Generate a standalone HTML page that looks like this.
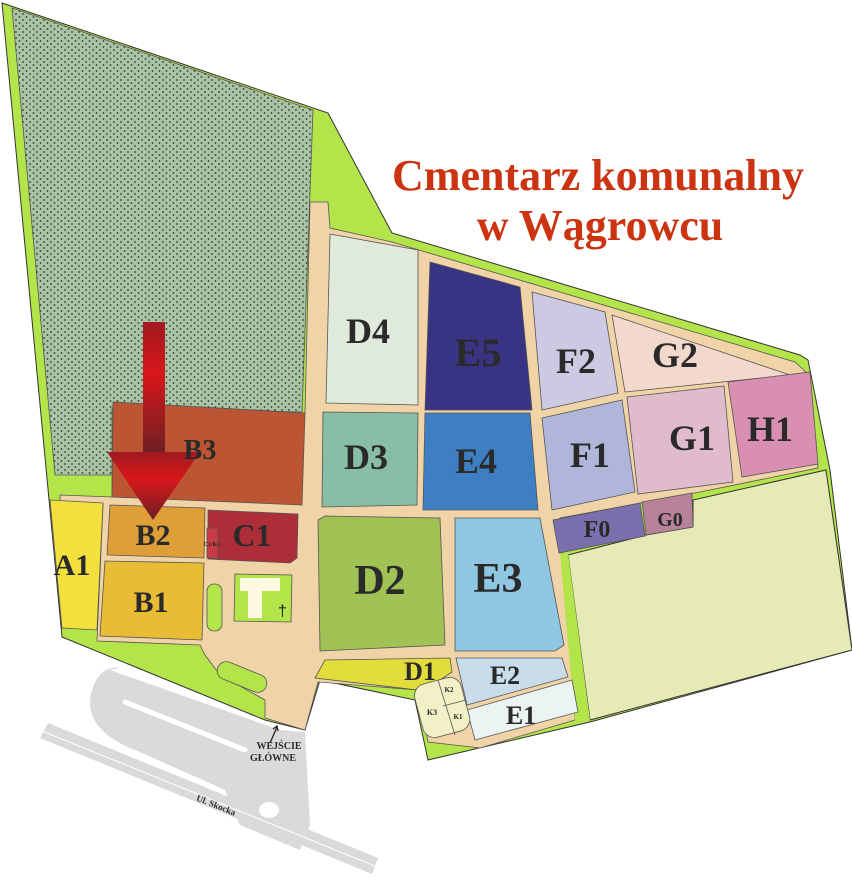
<!DOCTYPE html>
<html><head><meta charset="utf-8"><style>
html,body{margin:0;padding:0;background:#fff;width:852px;height:879px;overflow:hidden}
svg{display:block}
.l{font-family:"Liberation Serif",serif;font-weight:bold;fill:#2a2a2a}
</style></head><body>
<svg width="852" height="879" viewBox="0 0 852 879" xmlns="http://www.w3.org/2000/svg">
<defs>
<pattern id="dots" width="7" height="6" patternUnits="userSpaceOnUse">
<rect width="7" height="6" fill="#a9c4a5"/>
<circle cx="2" cy="2" r="0.9" fill="#333"/><circle cx="5.5" cy="5" r="0.9" fill="#333"/>
</pattern>
<linearGradient id="ar" x1="0" y1="0" x2="0" y2="1">
<stop offset="0" stop-color="#a01a1e"/><stop offset="0.4" stop-color="#d8161b"/><stop offset="1" stop-color="#6a2024"/>
</linearGradient>
</defs>
<g fill="#d9dad9" stroke="none">
<polygon points="40,738 48,723 378,858 372,874"/>
<path d="M110,670 L280,730 L305,732 L310,825 L300,850 L240,825 L225,790 L140,752 Q80,730 92,690 Q100,665 120,668 Z"/>
</g>
<line x1="42" y1="731" x2="375" y2="866" stroke="#fff" stroke-width="1"/>
<path d="M125,702 L245,750" stroke="#fff" stroke-width="5" stroke-linecap="round"/>
<ellipse cx="269" cy="810" rx="10" ry="8" fill="#fff"/>
<polygon points="2,3 328,113 392,233 800,355 808,360 830,470 852,650 590,722 428,760 415,700 320,680 305,730 265,720 62,637" fill="#b3e44a" stroke="#333" stroke-width="1"/>
<polygon points="12,8 313,110 302,412 112,408 112,475 55,475" fill="url(#dots)" stroke="#555" stroke-width="0.8"/>
<path d="M310,202 L328,202 L330,228 L392,242 L795,362 L808,374 L818,468 L700,492 L560,518 L575,720 L480,748 L428,742 L418,690 L318,682 L305,730 L265,718 L265,700 L220,675 L205,655 L200,645 L97,641 L103,505 L60,502 L60,495 L112,497 L113,402 L305,413 Z" fill="#f0d3a7" stroke="#555" stroke-width="0.8"/>
<polygon points="568,555 646,535 693,527 693,500 826,470 852,650 590,720" fill="#e5eab6" stroke="#333" stroke-width="1"/>
<polygon points="560,553 568,553 590,720 575,722" fill="#b3e44a"/>
<g stroke="#555" stroke-width="0.8">
<polygon points="113,402 305,413 302,505 112,497" fill="#bc5533"/>
<polygon points="50,500 103,503 97,630 62,628" fill="#f4e03c"/>
<polygon points="110,505 205,508 204,558 107,555" fill="#df9f38"/>
<polygon points="208,510 298,514 297,558 290,563 208,559" fill="#ad2e38"/>
<rect x="207" y="528" width="11" height="30" fill="#c83a44"/>
<polygon points="105,561 204,563 202,640 100,636" fill="#e8bd35"/>
<rect x="207" y="584" width="15" height="47" rx="7" fill="#b3e44a"/>
<polygon points="235,574 292,575 291,622 234,621" fill="#b3e44a"/>
<polygon points="240,578 280,578 280,591 262,591 262,618 248,618 248,591 240,591" fill="#fff8e0" stroke="none"/>
<rect x="216" y="668" width="52" height="18" rx="9" transform="rotate(22 242 677)" fill="#b3e44a"/>
<polygon points="330,234 418,250 418,405 326,403" fill="#dfeadb"/>
<polygon points="430,262 520,287 532,410 425,410" fill="#393383"/>
<polygon points="532,292 605,312 618,393 542,410" fill="#ccc9e2"/>
<polygon points="612,315 790,375 625,392" fill="#f2d9cc"/>
<polygon points="323,412 418,413 417,505 322,507" fill="#89bea6"/>
<polygon points="425,413 530,413 538,510 423,510" fill="#3e7fc4"/>
<polygon points="542,418 622,400 635,492 552,510" fill="#b0b6d9"/>
<polygon points="627,397 724,386 733,482 638,494" fill="#e0bbcc"/>
<polygon points="728,382 810,372 818,464 742,477" fill="#d98fb1"/>
<polygon points="553,520 640,503 645,536 559,553" fill="#7b6fae"/>
<polygon points="642,502 692,493 693,527 646,535" fill="#b88298"/>
<path d="M325,516 L440,518 L445,645 L320,651 L318,520 Z" fill="#a0c153"/>
<path d="M455,518 L540,518 L564,645 L555,651 L455,651 Z" fill="#8fc6e2"/>
<polygon points="325,660 450,658 452,672 440,680 418,690 315,678" fill="#e2dd3a"/>
<polygon points="456,658 562,658 568,677 467,705" fill="#c8dcea"/>
<polygon points="467,710 572,680 578,712 475,740" fill="#ecf4f3"/>
<rect x="418" y="680" width="48" height="55" rx="12" transform="rotate(-15 442 707)" fill="#f2f0c6"/>
<line x1="438" y1="680" x2="455" y2="735"/><line x1="443" y1="706" x2="466" y2="700"/>
</g>
<rect x="143" y="322" width="22" height="132" fill="url(#ar)"/>
<polygon points="107,452 200,452 153,520" fill="url(#ar)"/>
<g class="l" font-size="36" text-anchor="middle">
<text x="368" y="343">D4</text><text x="478" y="366" font-size="40">E5</text>
<text x="576" y="373">F2</text><text x="675" y="367">G2</text>
<text x="366" y="469">D3</text><text x="476" y="473">E4</text><text x="590" y="467">F1</text>
<text x="692" y="450">G1</text><text x="770" y="441">H1</text>
<text x="200" y="459" font-size="28">B3</text>
<text x="153" y="545" font-size="30">B2</text><text x="252" y="546" font-size="32">C1</text>
<text x="72" y="575" font-size="30">A1</text><text x="151" y="612" font-size="30">B1</text>
<text x="380" y="594" font-size="42">D2</text><text x="498" y="592" font-size="42">E3</text>
<text x="597" y="537" font-size="24">F0</text><text x="670" y="526" font-size="20">G0</text>
<text x="420" y="680" font-size="26">D1</text><text x="505" y="684" font-size="26">E2</text><text x="521" y="724" font-size="26">E1</text>
<text x="212" y="546" font-size="6">C1/K1</text>
<text x="432" y="715" font-size="8">K3</text><text x="449" y="692" font-size="7">K2</text><text x="458" y="719" font-size="7">K1</text>
<text x="279" y="749" font-size="10">WEJŚCIE</text><text x="273" y="761" font-size="10">GŁÓWNE</text>
<text x="215" y="808" font-size="9" transform="rotate(22 215 808)">Ul. Skocka</text>
</g>
<text x="278" y="616" font-family="Liberation Sans,sans-serif" font-size="16" fill="#222">†</text>
<path d="M270,743 L277,727 M273,729 L277,726 L278,731" stroke="#222" stroke-width="1.3" fill="none"/>
<g font-family="Liberation Serif,serif" font-weight="bold" fill="#cc3311" text-anchor="middle" font-size="44">
<text x="598" y="190">Cmentarz komunalny</text>
<text x="600" y="240">w Wągrowcu</text>
</g>
</svg>
</body></html>
